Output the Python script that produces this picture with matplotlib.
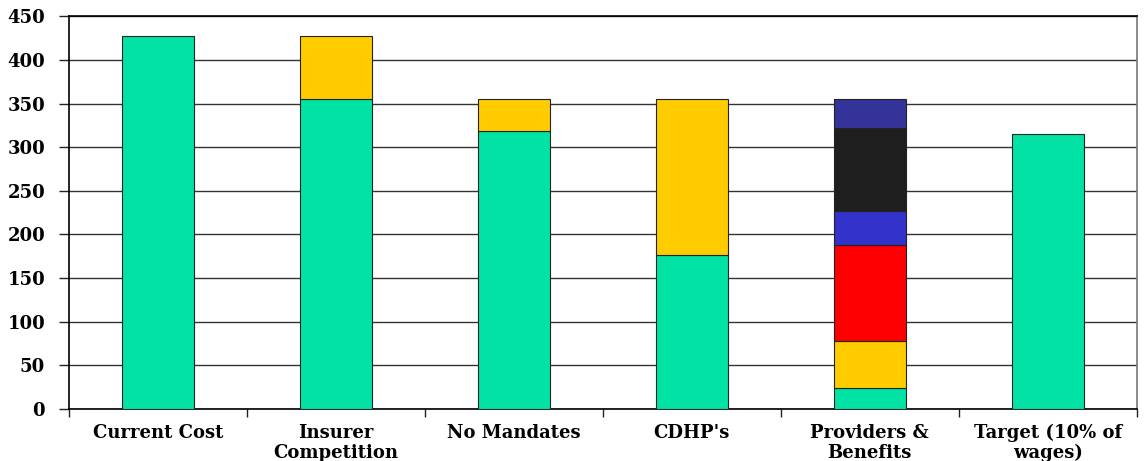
import matplotlib.pyplot as plt
import numpy as np

categories = ["Current Cost", "Insurer\nCompetition", "No Mandates", "CDHP's",
              "Providers &\nBenefits", "Target (10% of\nwages)"]

# Stacked segment heights, bottom to top
seg_green = [427, 355, 319, 177, 24, 315]
seg_yellow = [0, 72, 36, 178, 54, 0]
seg_red = [0, 0, 0, 0, 110, 0]
seg_blue = [0, 0, 0, 0, 39, 0]
seg_black = [0, 0, 0, 0, 95, 0]
seg_navy = [0, 0, 0, 0, 33, 0]

series = [
    (seg_green, "#00E3A5"),
    (seg_yellow, "#FFCC00"),
    (seg_red, "#FF0000"),
    (seg_blue, "#3333CC"),
    (seg_black, "#1E1E1E"),
    (seg_navy, "#333399"),
]

yticks = [0, 50, 100, 150, 200, 250, 300, 350, 400, 450]

plt.rcParams['font.family'] = ['DejaVu Serif']

fig = plt.figure(figsize=(11.47, 4.61), dpi=100)
ax = fig.add_axes([0.060, 0.1128, 0.931, 0.852])

x = np.arange(len(categories))
bottom = np.zeros(len(categories))
for vals, color in series:
    vals = np.array(vals, dtype=float)
    mask = vals > 0
    ax.bar(x[mask], vals[mask], width=0.405, bottom=bottom[mask], color=color,
           edgecolor="#222222", linewidth=0.8, zorder=3)
    bottom += vals

ax.set_xlim(-0.5, len(categories) - 0.5)
ax.set_ylim(0, 450)
ax.set_yticks(yticks)
ax.set_yticklabels([str(v) for v in yticks], fontsize=13, fontweight="bold")
ax.yaxis.grid(True, color="#333333", linewidth=1.0, zorder=0)
ax.set_axisbelow(True)

# category labels centred under bars, tick marks at category boundaries
ax.set_xticks(np.arange(len(categories) + 1) - 0.5)
ax.set_xticklabels([])
ax.tick_params(axis="x", length=6, width=1, direction="out", color="#222222")
ax.tick_params(axis="y", length=7, width=1, direction="out", color="#222222", pad=10)
for i, lab in enumerate(categories):
    ax.text(i, -17, lab, ha="center", va="top", fontsize=13, fontweight="bold",
            linespacing=1.15, clip_on=False)

for side in ["left", "bottom", "top"]:
    ax.spines[side].set_color("black")
    ax.spines[side].set_linewidth(1.2)
ax.spines["right"].set_color("#777777")
ax.spines["right"].set_linewidth(1.2)

fig.savefig("out.png", dpi=100, facecolor="white")
